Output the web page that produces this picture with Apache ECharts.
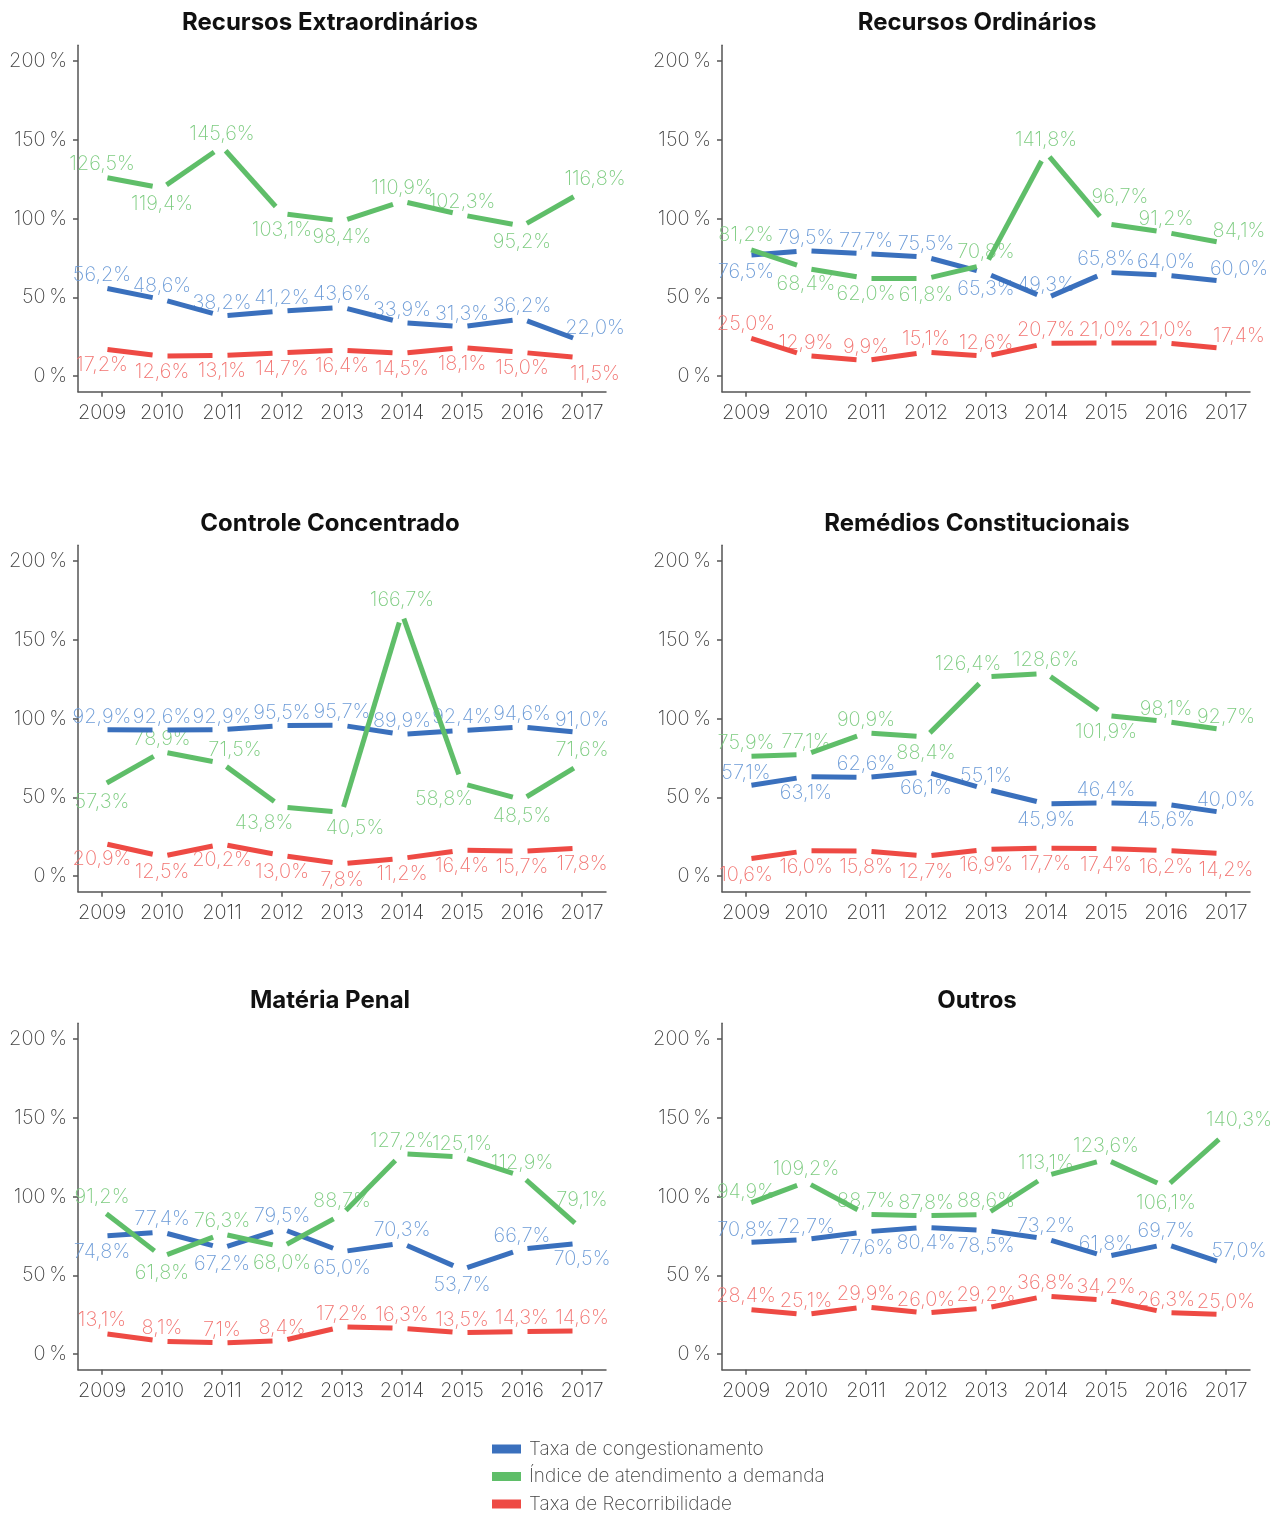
<!DOCTYPE html>
<html>
<head>
<meta charset="utf-8">
<script src="https://cdn.jsdelivr.net/npm/echarts@6/dist/echarts.min.js"></script>
<style>
  html, body { margin: 0; padding: 0; background: #fff; }
  #chart { width: 1271px; height: 1515px; }
</style>
</head>
<body>
<div id="chart"></div>
<script>
// ---- data -------------------------------------------------------------
const years = [2009, 2010, 2011, 2012, 2013, 2014, 2015, 2016, 2017];
const yTicks = [0, 50, 100, 150, 200];

const panelTitles = [
  'Recursos Extraordinários', 'Recursos Ordinários',
  'Controle Concentrado', 'Remédios Constitucionais',
  'Matéria Penal', 'Outros'
];
const seriesNames = [
  'Taxa de congestionamento',
  'Índice de atendimento a demanda',
  'Taxa de Recorribilidade'
];

// Taxa de congestionamento (%)
const congRE = [56.2, 48.6, 38.2, 41.2, 43.6, 33.9, 31.3, 36.2, 22.0];
const congRO = [76.5, 79.5, 77.7, 75.5, 65.3, 49.3, 65.8, 64.0, 60.0];
const congCC = [92.9, 92.6, 92.9, 95.5, 95.7, 89.9, 92.4, 94.6, 91.0];
const congRC = [57.1, 63.1, 62.6, 66.1, 55.1, 45.9, 46.4, 45.6, 40.0];
const congMP = [74.8, 77.4, 67.2, 79.5, 65.0, 70.3, 53.7, 66.7, 70.5];
const congOU = [70.8, 72.7, 77.6, 80.4, 78.5, 73.2, 61.8, 69.7, 57.0];

// Índice de atendimento a demanda (%)
const demRE = [126.5, 119.4, 145.6, 103.1, 98.4, 110.9, 102.3, 95.2, 116.8];
const demRO = [81.2, 68.4, 62.0, 61.8, 70.8, 141.8, 96.7, 91.2, 84.1];
const demCC = [57.3, 78.9, 71.5, 43.8, 40.5, 166.7, 58.8, 48.5, 71.6];
const demRC = [75.9, 77.1, 90.9, 88.4, 126.4, 128.6, 101.9, 98.1, 92.7];
const demMP = [91.2, 61.8, 76.3, 68.0, 88.7, 127.2, 125.1, 112.9, 79.1];
const demOU = [94.9, 109.2, 88.7, 87.8, 88.6, 113.1, 123.6, 106.1, 140.3];

// Taxa de Recorribilidade (%)
const recRE = [17.2, 12.6, 13.1, 14.7, 16.4, 14.5, 18.1, 15.0, 11.5];
const recRO = [25.0, 12.9, 9.9, 15.1, 12.6, 20.7, 21.0, 21.0, 17.4];
const recCC = [20.9, 12.5, 20.2, 13.0, 7.8, 11.2, 16.4, 15.7, 17.8];
const recRC = [10.6, 16.0, 15.8, 12.7, 16.9, 17.7, 17.4, 16.2, 14.2];
const recMP = [13.1, 8.1, 7.1, 8.4, 17.2, 16.3, 13.5, 14.3, 14.6];
const recOU = [28.4, 25.1, 29.9, 26.0, 29.2, 36.8, 34.2, 26.3, 25.0];

// ---- value label placement
// t = above, b = below, r/l = nudged sideways, T = well above the point
const congSides = [
  ['t','t','t','t','t','t','t','t','tr'],
  ['b','t','t','t','b','t','t','t','tr'],
  ['t','t','t','t','t','t','t','t','t'],
  ['t','b','t','b','t','b','t','b','t'],
  ['b','t','b','t','b','t','b','t','b'],
  ['t','t','b','b','b','t','t','t','tr']
];
const demSides = [
  ['t','b','t','b','b','t','t','b','tr'],
  ['t','b','b','b','t','t','Tr','t','tr'],
  ['b','t','tr','bl','br','t','bl','b','t'],
  ['t','t','t','b','tl','t','b','t','t'],
  ['t','b','t','b','t','t','t','t','T'],
  ['t','t','t','t','t','t','t','b','tr']
];
const recSides = [
  ['b','b','b','b','b','b','b','b','br'],
  ['t','t','t','t','t','t','t','t','tr'],
  ['b','b','b','b','b','b','b','b','b'],
  ['b','b','b','b','b','b','b','b','b'],
  ['t','t','t','t','t','t','t','t','t'],
  ['t','t','t','t','t','t','t','t','t']
];

const congData = [congRE, congRO, congCC, congRC, congMP, congOU];
const demData = [demRE, demRO, demCC, demRC, demMP, demOU];
const recData = [recRE, recRO, recCC, recRC, recMP, recOU];

// ---- styling ------------------------------------------------------------
const FONT = 'Inter, "Noto Sans", sans-serif';
const LIGHT = 250;
const lineColors = ['#3a70bd', '#5fbe69', '#ee4a44'];
const labelColors = ['#6c9bd7', '#7dcc80', '#f27471'];
const AXIS_COLOR = '#555';
const GAP_START = 5.5;   // gap after each point along the segment
const GAP_END = 9.5;     // gap before the next point
const LABEL_OFFSETS = {
  t: [0, -13], b: [0, 16],
  tr: [13, -13], br: [13, 16],
  tl: [-18, -13], bl: [-18, 16],
  T: [0, -29], Tr: [14, -27]
};

const colLeft = [78, 722];
const colTitleX = [330, 977];
const rowTop = [45.25, 545.25, 1023.25];
const rowTitleTop = [11, 512, 989];
const GRID_W = 528;
const GRID_H = 346.5;

const fmt = v => v.toFixed(1).replace('.', ',') + '%';

function makeRenderer(values, sides, lineColor, labelColor) {
  return function (params, api) {
    const i = params.dataIndex;
    const p = api.coord([api.value(0), api.value(1)]);
    const children = [];
    if (i < values.length - 1) {
      const q = api.coord([years[i + 1], values[i + 1]]);
      const dx = q[0] - p[0], dy = q[1] - p[1];
      const len = Math.hypot(dx, dy);
      const ux = dx / len, uy = dy / len;
      children.push({
        type: 'line', z2: 10,
        shape: {
          x1: p[0] + ux * GAP_START, y1: p[1] + uy * GAP_START,
          x2: q[0] - ux * GAP_END, y2: q[1] - uy * GAP_END
        },
        style: { stroke: lineColor, lineWidth: 5, lineCap: 'butt' }
      });
    }
    const off = LABEL_OFFSETS[sides[i]];
    children.push({
      type: 'text', z2: 1,
      x: p[0] + off[0], y: p[1] + off[1],
      style: {
        text: fmt(values[i]), fill: labelColor,
        fontSize: 20, fontFamily: FONT, fontWeight: LIGHT,
        align: 'center', verticalAlign: 'middle'
      }
    });
    return { type: 'group', children };
  };
}

const grids = [], xAxes = [], yAxes = [], titles = [], series = [];
for (let k = 0; k < 6; k++) {
  const col = k % 2, row = Math.floor(k / 2);
  grids.push({ left: colLeft[col], top: rowTop[row], width: GRID_W, height: GRID_H });
  titles.push({
    text: panelTitles[k], left: colTitleX[col], top: rowTitleTop[row],
    textAlign: 'center', padding: 0,
    textStyle: { fontFamily: FONT, fontSize: 24, fontWeight: 700, color: '#111' }
  });
  xAxes.push({
    type: 'value', gridIndex: k, min: 2008.6, max: 2017.4,
    splitLine: { show: false },
    axisLine: { show: true, onZero: false, lineStyle: { color: AXIS_COLOR, width: 1.5 } },
    axisTick: { show: true, customValues: years, length: 5, lineStyle: { color: AXIS_COLOR, width: 1.5 } },
    axisLabel: {
      customValues: years, formatter: v => String(v), margin: 11,
      color: '#333', fontSize: 20, fontFamily: FONT, fontWeight: LIGHT
    }
  });
  yAxes.push({
    type: 'value', gridIndex: k, min: -10, max: 210,
    splitLine: { show: false },
    axisLine: { show: true, onZero: false, lineStyle: { color: AXIS_COLOR, width: 1.5 } },
    axisTick: { show: true, customValues: yTicks, length: 5, lineStyle: { color: AXIS_COLOR, width: 1.5 } },
    axisLabel: {
      customValues: yTicks, formatter: v => v + '\u2009%', margin: 11,
      color: '#444', fontSize: 20, fontFamily: FONT, fontWeight: LIGHT
    }
  });
  const groups = [
    [congData[k], congSides[k]],
    [demData[k], demSides[k]],
    [recData[k], recSides[k]]
  ];
  groups.forEach(([vals, sides], s) => {
    series.push({
      type: 'custom', name: seriesNames[s],
      xAxisIndex: k, yAxisIndex: k,
      itemStyle: { color: lineColors[s] },
      encode: { x: 0, y: 1 },
      data: years.map((y, i) => [y, vals[i]]),
      renderItem: makeRenderer(vals, sides, lineColors[s], labelColors[s]),
      silent: true
    });
  });
}

const chart = echarts.init(document.getElementById('chart'), null, { renderer: 'canvas' });
chart.setOption({
  backgroundColor: '#fff',
  animation: false,
  title: titles,
  grid: grids,
  xAxis: xAxes,
  yAxis: yAxes,
  legend: {
    orient: 'vertical', left: 492, top: 1439.5, height: 76, padding: 0,
    icon: 'rect', itemWidth: 29, itemHeight: 9, itemGap: 8.5,
    selectedMode: false,
    data: seriesNames.map((n, s) => ({ name: n, itemStyle: { color: lineColors[s] } })),
    textStyle: { fontFamily: FONT, fontSize: 19, fontWeight: LIGHT, color: '#444', lineHeight: 19, padding: [0, 0, 0, 3] }
  },
  series
});
</script>
</body>
</html>
